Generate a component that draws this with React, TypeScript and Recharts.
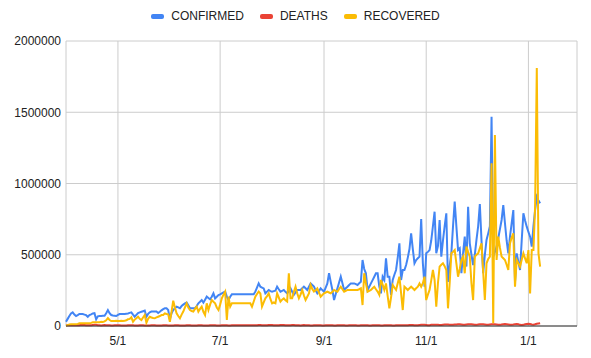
import { LineChart, Line, XAxis, YAxis, CartesianGrid, Legend } from 'recharts';

// daily values in thousands, starting 3/31
const confirmed = [
  30, 50, 70, 88, 96, 80, 70,
  76, 84, 84, 84, 80, 76, 65,
  77, 82, 88, 90, 47, 68, 70,
  70, 72, 72, 90, 112, 90, 77,
  74, 72, 70, 78, 84, 84, 84,
  84, 86, 88, 92, 96, 80, 65,
  78, 91, 96, 100, 104, 108, 65,
  85, 96, 101, 101, 101, 101, 91,
  100, 110, 118, 124, 124, 112, 47,
  90, 112, 125, 136, 130, 124, 140,
  150, 159, 164, 145, 124, 124, 124,
  124, 140, 159, 170, 182, 164, 185,
  206, 196, 187, 205, 229, 194, 205,
  217, 222, 229, 235, 241, 206, 182,
  205, 222, 222, 222, 222, 222, 222,
  222, 222, 222, 222, 222, 222, 222,
  222, 241, 270, 299, 276, 270, 264,
  229, 241, 253, 245, 241, 245, 248,
  276, 258, 241, 247, 253, 240, 229,
  245, 264, 240, 218, 235, 253, 253,
  253, 265, 276, 265, 253, 276, 299,
  288, 276, 250, 229, 245, 264, 252,
  241, 270, 299, 370, 310, 253, 182,
  225, 264, 305, 346, 300, 253, 265,
  276, 288, 299, 299, 299, 294, 288,
  300, 311, 463, 400, 370, 253, 276,
  299, 322, 346, 370, 370, 276, 229,
  346, 323, 475, 346, 346, 218, 323,
  360, 393, 480, 580, 323, 393, 393,
  428, 480, 540, 650, 540, 440, 463,
  475, 487, 751, 440, 276, 510, 520,
  533, 600, 700, 802, 510, 560, 744,
  487, 600, 700, 791, 310, 420, 510,
  700, 873, 700, 533, 545, 370, 510,
  627, 417, 837, 580, 500, 428, 500,
  604, 700, 856, 600, 370, 500, 604,
  650, 700, 1469, 487, 520, 557, 616,
  680, 744, 849, 721, 600, 510, 627,
  720, 814, 311, 510, 450, 393, 600,
  791, 740, 697, 660, 627, 557, 700,
  814, 907, 880, 861,
];

const deaths = [
  4, 5, 6, 6, 7, 6, 5,
  5, 6, 8, 7, 7, 6, 5,
  5, 6, 7, 8, 8, 6, 5,
  4, 6, 7, 6, 6, 5, 4,
  4, 5, 6, 5, 5, 4, 4,
  3, 4, 6, 6, 5, 5, 4,
  3, 4, 5, 5, 5, 4, 4,
  3, 4, 5, 5, 5, 4, 3,
  3, 4, 5, 5, 5, 4, 3,
  3, 4, 5, 5, 5, 4, 3,
  4, 4, 5, 5, 5, 4, 3,
  3, 4, 5, 5, 5, 4, 4,
  3, 4, 5, 6, 5, 5, 4,
  3, 4, 5, 5, 5, 5, 4,
  4, 5, 5, 5, 5, 5, 5,
  5, 5, 5, 5, 5, 5, 5,
  5, 5, 6, 7, 7, 6, 5,
  5, 6, 7, 7, 7, 6, 5,
  5, 6, 7, 7, 7, 6, 5,
  5, 6, 7, 7, 6, 6, 5,
  4, 6, 7, 6, 6, 5, 4,
  4, 6, 6, 6, 6, 5, 4,
  4, 5, 6, 6, 6, 5, 4,
  4, 6, 6, 6, 6, 5, 4,
  4, 5, 6, 6, 6, 5, 4,
  4, 5, 6, 6, 6, 5, 4,
  4, 5, 6, 6, 6, 5, 4,
  4, 5, 6, 6, 6, 5, 4,
  4, 5, 6, 6, 6, 5, 5,
  5, 6, 7, 7, 7, 6, 5,
  5, 7, 8, 8, 8, 7, 6,
  6, 8, 9, 9, 9, 8, 7,
  7, 9, 10, 11, 10, 9, 8,
  8, 10, 11, 12, 12, 10, 8,
  8, 10, 12, 12, 12, 10, 8,
  8, 11, 12, 13, 12, 11, 9,
  9, 11, 13, 13, 12, 11, 9,
  8, 11, 13, 14, 13, 11, 9,
  8, 10, 13, 14, 12, 8, 7,
  8, 12, 14, 15, 14, 11, 9,
  12, 16, 18, 20,
];

const recovered = [
  3, 6, 10, 12, 12, 12, 13,
  15, 19, 19, 19, 19, 19, 20,
  19, 22, 26, 26, 26, 26, 26,
  30, 28, 32, 40, 56, 42, 35,
  35, 35, 36, 35, 35, 37, 35,
  36, 40, 47, 50, 61, 30, 45,
  55, 65, 50, 42, 60, 77, 23,
  50, 65, 60, 56, 54, 60, 65,
  70, 77, 77, 89, 84, 82, 30,
  100, 178, 130, 89, 70, 54, 80,
  101, 130, 159, 130, 112, 105, 101,
  120, 136, 101, 120, 136, 100, 77,
  159, 112, 150, 182, 170, 159, 130,
  112, 150, 194, 220, 241, 42, 206,
  136, 159, 159, 159, 159, 159, 159,
  159, 159, 159, 159, 159, 159, 136,
  170, 206, 225, 241, 229, 136, 165,
  194, 210, 229, 190, 159, 165, 159,
  229, 200, 171, 185, 194, 180, 171,
  370, 194, 194, 240, 276, 230, 194,
  220, 253, 215, 182, 205, 229, 288,
  260, 241, 250, 264, 235, 206, 218,
  229, 235, 241, 235, 229, 240, 253,
  247, 241, 260, 276, 258, 241, 247,
  253, 253, 253, 253, 253, 253, 253,
  258, 264, 147, 370, 300, 241, 247,
  253, 265, 276, 258, 241, 218, 323,
  290, 253, 299, 210, 124, 200, 288,
  270, 253, 300, 346, 230, 112, 276,
  265, 253, 265, 276, 265, 253, 265,
  276, 299, 276, 300, 346, 182, 220,
  253, 320, 393, 323, 136, 300, 417,
  430, 440, 420, 393, 124, 300, 510,
  520, 533, 440, 346, 400, 463, 487,
  370, 557, 520, 487, 300, 182, 487,
  500, 510, 545, 580, 380, 182, 440,
  470, 487, 1142, 19, 1340, 463, 627,
  550, 487, 475, 463, 430, 393, 580,
  620, 650, 276, 463, 440, 417, 465,
  510, 475, 440, 533, 229, 533, 533,
  842, 1810, 510, 417,
];

const tickDays = [31, 92, 154, 215, 276];
const tickLabels = ['5/1', '7/1', '9/1', '11/1', '1/1'];
const yTicks = [0, 500000, 1000000, 1500000, 2000000];

const series = [
  { key: 'confirmed', name: 'CONFIRMED', color: '#4285F4' },
  { key: 'deaths', name: 'DEATHS', color: '#EA4335' },
  { key: 'recovered', name: 'RECOVERED', color: '#FBBC04' },
];

const data = confirmed.map((c, i) => ({
  day: i,
  confirmed: c * 1000,
  deaths: deaths[i] * 1000,
  recovered: recovered[i] * 1000,
}));

const font = 'Arial, "Liberation Sans", sans-serif';

const ChartLegend = () => (
  <div
    style={{
      height: 41,
      display: 'flex',
      justifyContent: 'center',
      alignItems: 'flex-start',
      paddingTop: 9,
      boxSizing: 'border-box',
      fontFamily: font,
      fontSize: 12,
      color: '#222',
    }}
  >
    {series.map((s) => (
      <div key={s.key} style={{ display: 'flex', alignItems: 'center', margin: '0 8px', lineHeight: '14px' }}>
        <span style={{ width: 13, height: 5, borderRadius: 2, background: s.color, marginRight: 7 }} />
        <span>{s.name}</span>
      </div>
    ))}
  </div>
);

const App = () => {
  return (
    <div style={{ position: 'absolute', left: 0, top: 0, width: 591, height: 358, background: '#fff' }}>
      <LineChart width={591} height={358} data={data} margin={{ top: 0, right: 14, bottom: 0, left: 0 }}>
        <Legend
          verticalAlign="top"
          height={41}
          wrapperStyle={{ left: 0, width: 591 }}
          content={() => <ChartLegend />}
        />
        <CartesianGrid stroke="#ccc" />
        <XAxis
          dataKey="day"
          type="number"
          domain={[0, 305]}
          ticks={tickDays}
          tickFormatter={(v) => tickLabels[tickDays.indexOf(v)]}
          axisLine={{ stroke: '#333' }}
          tickLine={false}
          height={32}
          tick={{ fill: '#222', fontSize: 12, fontFamily: font }}
          tickMargin={4}
        />
        <YAxis
          domain={[0, 2000000]}
          ticks={yTicks}
          axisLine={false}
          tickLine={false}
          width={66}
          tickSize={4}
          tickMargin={1}
          tick={{ fill: '#222', fontSize: 12, fontFamily: font }}
        />
        {series.map((s) => (
          <Line
            key={s.key}
            dataKey={s.key}
            name={s.name}
            stroke={s.color}
            strokeWidth={2}
            dot={false}
            type="linear"
            isAnimationActive={false}
          />
        ))}
      </LineChart>
    </div>
  );
};

export default App;
